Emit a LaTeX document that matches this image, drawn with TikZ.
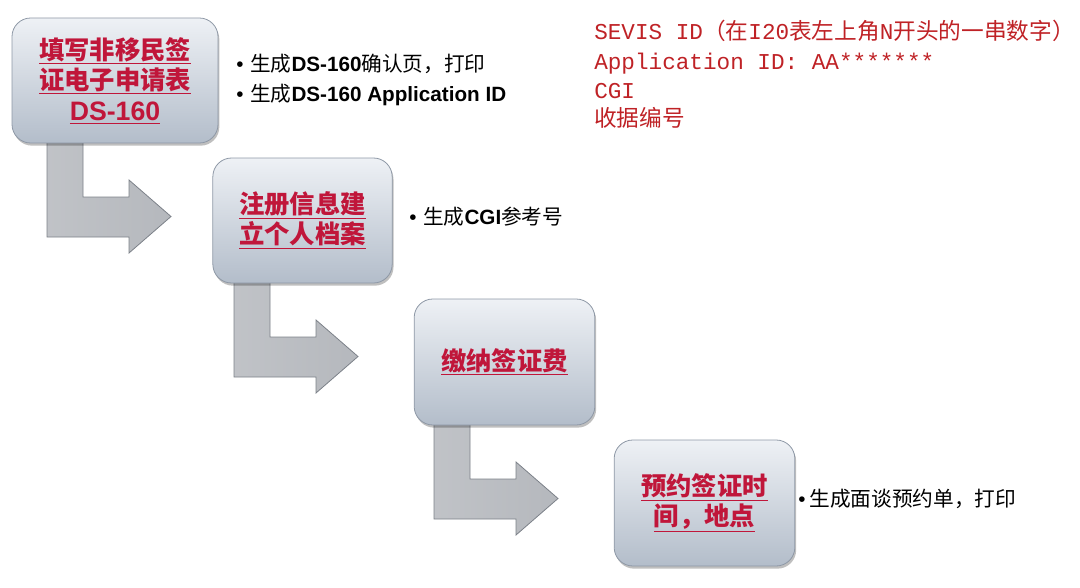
\documentclass[tikz,border=0pt]{standalone}
\usepackage{fontspec}
\setmainfont{Liberation Sans}
\setmonofont{Liberation Mono}
\newfontfamily\cjk{Noto Sans CJK SC}
\usetikzlibrary{shadows,calc}
\definecolor{boxred}{HTML}{C0163A}
\definecolor{notered}{HTML}{BF2226}
\definecolor{boxtop}{HTML}{EEF1F5}
\definecolor{boxbot}{HTML}{B3BDCA}
\definecolor{boxline}{HTML}{8E98A6}
\definecolor{arrfill}{HTML}{B5B8BD}
\definecolor{arrline}{HTML}{7C8189}
\newcommand\myul[1]{\underline{#1}}
\newcommand\lat[1]{{\rmfamily\bfseries #1}}
\tikzset{
  stepbox/.style={draw=boxline, line width=0.6pt, rounded corners=14pt,
    top color=boxtop, bottom color=boxbot, text=boxred, align=center,
    font=\cjk\bfseries\fontsize{19}{22.5}\selectfont,
    drop shadow={shadow xshift=1pt, shadow yshift=-2pt, opacity=0.25, fill=black},
    inner sep=0pt},
  bullettext/.style={anchor=base west, font=\cjk\fontsize{15.5}{18}\selectfont, text=black, inner sep=0pt},
  notetext/.style={anchor=base west, font=\ttfamily\fontsize{17}{20}\selectfont, text=notered, inner sep=0pt},
  bentarrow/.pic={
    \path[draw=arrline, line width=0.6pt, left color=arrfill!85!white, right color=arrfill]
      (0,-6) -- (36,-6) -- (36,54) -- (82,54) -- (82,37) -- (124,73.5)
      -- (82,110) -- (82,94) -- (0,94) -- cycle;
  }
}
\begin{document}
\begin{tikzpicture}[x=0.75pt,y=-0.75pt]
\useasboundingbox (0,0) rectangle (1080,588);

% arrows (drawn first, under the boxes)
\coordinate (a1) at (47,143);
\coordinate (a2) at (234,283);
\coordinate (a3) at (434,425);
\pic at (a1) {bentarrow};
\pic at (a2) {bentarrow};
\pic at (a3) {bentarrow};

% boxes
\node[stepbox, minimum width=154.5pt, minimum height=93.75pt] (b1) at (115,80.5)
  {\myul{填写非移民签}\\\myul{证电子申请表}\\[1pt]{\rmfamily\bfseries\fontsize{20}{22}\selectfont\myul{DS-160}}};
\node[stepbox, minimum width=134.5pt, minimum height=93.75pt] (b2) at (302.5,220.5)
  {\myul{注册信息建}\\\myul{立个人档案}};
\node[stepbox, minimum width=135.5pt, minimum height=94.5pt] (b3) at (504.5,362)
  {\myul{缴纳签证费}};
\node[stepbox, minimum width=135.5pt, minimum height=94.5pt] (b4) at (704.5,503)
  {\myul{预约签证时}\\\myul{间，地点}};

% bullet notes
\node[bullettext] (n1) at (236,72) {{\rmfamily•}\hspace{5pt}生成\lat{DS-160}确认页，打印};
\node[bullettext] (n2) at (236,102) {{\rmfamily•}\hspace{5pt}生成\lat{DS-160 Application ID}};
\node[bullettext] (n3) at (409,224) {{\rmfamily•}\hspace{5pt}生成\lat{CGI}参考号};
\node[bullettext] (n4) at (798,506) {{\rmfamily•}\hspace{3pt}生成面谈预约单，打印};

% red notes
\node[notetext] (r1) at (594,40) {SEVIS ID{\cjk（在}I20{\cjk 表左上角}N{\cjk 开头的一串数字）}};
\node[notetext] (r2) at (594,70) {Application ID: AA*******};
\node[notetext] (r3) at (594,99) {CGI};
\node[notetext] (r4) at (594,127) {{\cjk 收据编号}};
\end{tikzpicture}
\end{document}
